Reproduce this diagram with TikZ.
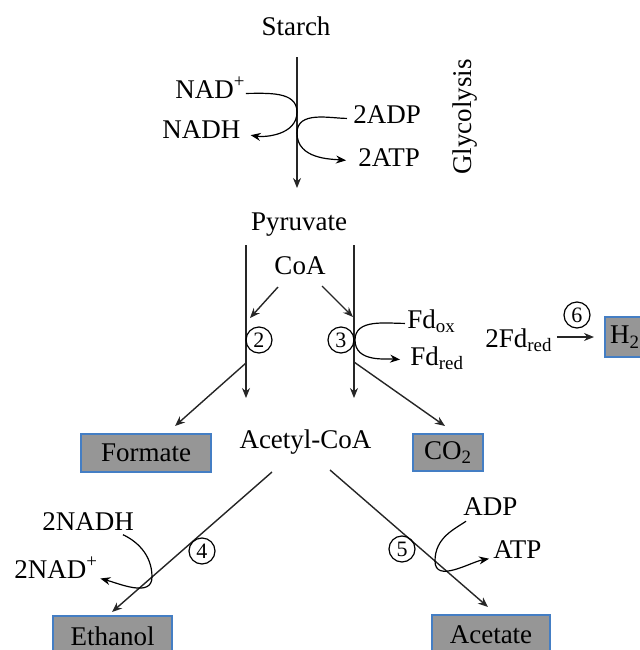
\documentclass[tikz,border=0pt]{standalone}
\usepackage{fontspec}
\setmainfont{Liberation Serif}
\usetikzlibrary{arrows.meta}
\definecolor{boxgray}{RGB}{150,150,150}
\definecolor{boxblue}{RGB}{68,126,196}
\begin{document}
\begin{tikzpicture}[
    x=0.5pt, y=-0.5pt,
    txt/.style={font=\fontsize{13.5}{16}\selectfont, inner sep=0pt},
    product/.style={rectangle, draw=boxblue, fill=boxgray, line width=1pt, inner sep=0pt, font=\fontsize{13.5}{16}\selectfont},
    enzyme/.style={circle, draw, line width=0.6pt, minimum size=13pt, inner sep=0pt, font=\fontsize{11}{12}\selectfont},
    arrow/.style={-{Stealth[length=5pt,width=4pt]}, line width=0.7pt, draw=black!85},
    curl/.style={-{Stealth[length=5pt,width=4pt]}, line width=0.6pt}
]
    \useasboundingbox (0,0) rectangle (640,650);
    \clip (0,0) rectangle (640,650);

    % Glycolysis
    \node[txt, anchor=base] (starch) at (296,35) {Starch};
    \node[txt, anchor=base west] (nadp) at (175,98) {NAD\textsuperscript{+}};
    \node[txt, anchor=base west] (nadh) at (162,138) {NADH};
    \node[txt, anchor=base west] (adp2) at (353,123) {2ADP};
    \node[txt, anchor=base west] (atp2) at (358,166) {2ATP};
    \node[txt, rotate=90] (gly) at (465,117) {Glycolysis};
    \coordinate (glyTop) at (297,57);
    \coordinate (glyEnd) at (297,188);
    \coordinate (g1) at (297,112);
    \coordinate (g2) at (297,133);
    \draw[arrow] (glyTop) -- (glyEnd);
    \draw[curl, shorten >=5pt] (nadp.mid east) to[out=0, in=90] (g1) to[out=-90, in=-10] (nadh.mid east);
    \draw[curl, shorten <=3pt, shorten >=6pt] (adp2.mid west) to[out=180, in=90] (g2) to[out=-90, in=175] (atp2.mid west);

    % Pyruvate splitting
    \node[txt, anchor=base] (pyruvate) at (299,230) {Pyruvate};
    \node[txt, anchor=base] (coa) at (300,274) {CoA};
    \coordinate (pflTop) at (246,245);
    \coordinate (pflEnd) at (246,398);
    \coordinate (pforTop) at (354,245);
    \coordinate (pforEnd) at (354,398);
    \draw[arrow] (pflTop) -- (pflEnd);
    \draw[arrow] (pforTop) -- (pforEnd);
    \coordinate (coaL) at (278,287);
    \coordinate (coaLEnd) at (250,318);
    \coordinate (coaR) at (322,286);
    \coordinate (coaREnd) at (353,317);
    \draw[arrow] (coaL) -- (coaLEnd);
    \draw[arrow] (coaR) -- (coaREnd);
    \node[enzyme] (e2) at (259,340) {2};
    \node[enzyme] (e3) at (341,340) {3};

    % Ferredoxin
    \node[txt, anchor=base west] (fdox) at (407,328) {Fd\textsubscript{ox}};
    \node[txt, anchor=base west] (fdred) at (410,365) {Fd\textsubscript{red}};
    \coordinate (f3) at (355,340);
    \draw[curl, shorten <=1pt, shorten >=5pt] (fdox.mid west) to[out=180, in=90] (f3) to[out=-90, in=175] (fdred.mid west);

    % Hydrogen
    \node[txt, anchor=base west] (fd2) at (485,347) {2Fd\textsubscript{red}};
    \node[product, minimum width=20pt, minimum height=20pt] (h2) at (625,337) {H\textsubscript{2}};
    \node[enzyme] (e6) at (577,315) {6};
    \draw[arrow, shorten <=2pt, shorten >=5pt] (fd2.east |- h2) -- (h2.west);

    % Formate and CO2
    \node[product, minimum width=65pt, minimum height=19pt] (formate) at (146,453) {Formate};
    \node[product, minimum width=35pt, minimum height=18.5pt] (co2) at (448,452.5) {CO\textsubscript{2}};
    \coordinate (forStart) at (246,363);
    \coordinate (forTip) at (175,426);
    \coordinate (co2Start) at (354,362);
    \coordinate (co2Tip) at (445,426);
    \draw[arrow] (forStart) -- (forTip);
    \draw[arrow] (co2Start) -- (co2Tip);

    % Acetyl-CoA branches
    \node[txt, anchor=base] (acetyl) at (305.5,448) {Acetyl-CoA};
    \coordinate (ethStart) at (272,472);
    \coordinate (ethTip) at (112,612);
    \coordinate (aceStart) at (330,470);
    \coordinate (aceTip) at (488,607);
    \draw[arrow] (ethStart) -- (ethTip);
    \draw[arrow] (aceStart) -- (aceTip);
    \node[enzyme] (e4) at (202,551) {4};
    \node[enzyme] (e5) at (402,549) {5};

    % Ethanol side
    \node[txt, anchor=base west] (nadh2) at (42,530) {2NADH};
    \node[txt, anchor=base west] (nad2) at (14,578) {2NAD\textsuperscript{+}};
    \coordinate (n4) at (152,577);
    \draw[curl, shorten <=5pt, shorten >=1pt] (nadh2.-20) to[out=-25, in=90] (n4) to[out=-90, in=-15] (nad2.base east);

    % Acetate side
    \node[txt, anchor=base west] (adp) at (463,515) {ADP};
    \node[txt, anchor=base west] (atp) at (493,558) {ATP};
    \coordinate (a5) at (435,561);
    \draw[curl, shorten <=5pt, shorten >=2pt] (adp.-150) to[out=-145, in=90] (a5) to[out=-90, in=-170] (atp.base west);

    % Products
    \node[product, minimum width=59.5pt, minimum height=20pt] (ethanol) at (112.5,636) {Ethanol};
    \node[product, minimum width=59pt, minimum height=20pt] (acetate) at (491,635) {Acetate};
\end{tikzpicture}
\end{document}
